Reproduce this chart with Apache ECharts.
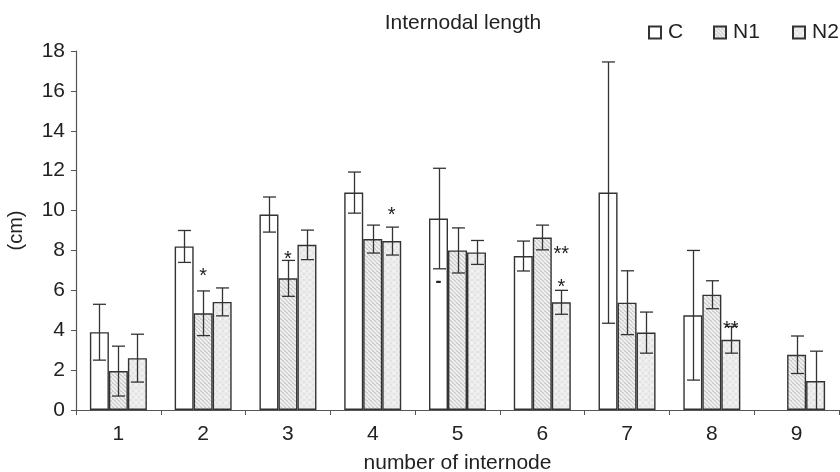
<!DOCTYPE html>
<html>
<head>
<meta charset="utf-8">
<script src="https://cdn.jsdelivr.net/npm/echarts@6/dist/echarts.min.js"></script>
<style>html,body{margin:0;padding:0;background:#fff}#chart{width:840px;height:472px}</style>
</head>
<body>
<div id="chart"></div>
<script>
var categories = ['1', '2', '3', '4', '5', '6', '7', '8', '9'];
var seriesNames = ['C', 'N1', 'N2'];
var valuesC  = [3.9, 8.2, 9.8, 10.9, 9.6, 7.72, 10.9, 4.75, null];
var errC     = [1.4, 0.8, 0.88, 1.03, 2.52, 0.75, 6.55, 3.25, null];
var valuesN1 = [1.95, 4.85, 6.6, 8.57, 8.0, 8.65, 5.38, 5.78, 2.77];
var errN1    = [1.25, 1.12, 0.9, 0.7, 1.13, 0.62, 1.6, 0.7, 0.94];
var valuesN2 = [2.6, 5.42, 8.28, 8.47, 7.9, 5.4, 3.88, 3.52, 1.45];
var errN2    = [1.2, 0.7, 0.74, 0.7, 0.6, 0.6, 1.03, 0.67, 1.5];
var yTicks   = [0, 2, 4, 6, 8, 10, 12, 14, 16, 18];
// significance marks: [category index, series index, value level, text]
var marks = [
  [1, 1, 6.9, '*'],
  [2, 1, 7.77, '*'],
  [3, 2, 9.93, '*'],
  [4, 0, 6.4, '-'],
  [5, 2, 7.98, '**'],
  [5, 2, 6.36, '*'],
  [7, 2, 4.26, '**']
];

var BAR_W = 19;
var FONT = '"Liberation Sans", Arial, sans-serif';

function makeHatch() {
  var c = document.createElement('canvas');
  c.width = 8; c.height = 8;
  var g = c.getContext('2d');
  g.fillStyle = '#c9c9c9';
  g.fillRect(0, 0, 8, 8);
  g.strokeStyle = '#f4f4f4';
  g.lineWidth = 1.6;
  for (var k = -8; k <= 16; k += 4) {
    g.beginPath();
    g.moveTo(k, 0);
    g.lineTo(k + 8, 8);
    g.stroke();
  }
  return c;
}
function makeSpeckle() {
  var c = document.createElement('canvas');
  c.width = 6; c.height = 6;
  var g = c.getContext('2d');
  g.fillStyle = '#ececec';
  g.fillRect(0, 0, 6, 6);
  g.fillStyle = '#e2e2e2';
  g.fillRect(0, 0, 2, 2);
  g.fillRect(3, 3, 2, 2);
  g.fillStyle = '#f4f4f4';
  g.fillRect(3, 0, 2, 2);
  return c;
}
var hatch = {image: makeHatch(), repeat: 'repeat'};
var speckle = {image: makeSpeckle(), repeat: 'repeat'};
var fills = ['#ffffff', hatch, speckle];
var allValues = [valuesC, valuesN1, valuesN2];
var allErr = [errC, errN1, errN2];

var chart = echarts.init(document.getElementById('chart'), null, {renderer: 'canvas'});

var series = [];
seriesNames.forEach(function (name, si) {
  series.push({
    name: name,
    type: 'bar',
    data: allValues[si],
    barWidth: BAR_W,
    barGap: '0%',
    itemStyle: {color: fills[si], borderColor: '#333', borderWidth: 1.4},
    emphasis: {disabled: true},
    silent: true,
    z: 2
  });
});

var errData = [];
seriesNames.forEach(function (name, si) {
  allValues[si].forEach(function (v, i) {
    if (v != null && allErr[si][i] != null) {
      errData.push([i, v - allErr[si][i], v + allErr[si][i], si]);
    }
  });
});

series.push({
  type: 'custom',
  silent: true,
  z: 5,
  data: errData,
  encode: {x: 0, y: [1, 2]},
  renderItem: function (params, api) {
    var off = (api.value(3) - 1) * BAR_W;
    var lo = api.coord([api.value(0), Math.max(0, api.value(1))]);
    var hi = api.coord([api.value(0), api.value(2)]);
    var x = Math.round(lo[0] + off) + 0.5;
    var hw = 6.5;
    var st = {stroke: '#333', lineWidth: 1.3};
    var ch = [
      {type: 'line', shape: {x1: x, y1: lo[1], x2: x, y2: hi[1]}, style: st},
      {type: 'line', shape: {x1: x - hw, y1: hi[1], x2: x + hw, y2: hi[1]}, style: st}
    ];
    if (api.value(1) > 0) {
      ch.push({type: 'line', shape: {x1: x - hw, y1: lo[1], x2: x + hw, y2: lo[1]}, style: st});
    }
    return {type: 'group', children: ch};
  }
});

series.push({
  type: 'custom',
  silent: true,
  z: 6,
  data: marks,
  encode: {x: 0, y: 2},
  renderItem: function (params, api) {
    var off = (api.value(1) - 1) * BAR_W;
    var p = api.coord([api.value(0), api.value(2)]);
    var txt = marks[params.dataIndex][3];
    var isDash = txt === '-';
    return {
      type: 'text',
      x: p[0] + off,
      y: p[1] + (isDash ? 0 : 4),
      style: {
        text: txt,
        fill: '#222',
        font: (isDash ? 'bold 18px ' : '20px ') + FONT,
        align: 'center',
        verticalAlign: 'middle'
      }
    };
  }
});

var legendLefts = [648, 713, 792];
var legends = seriesNames.map(function (name, si) {
  return {
    data: [name],
    left: legendLefts[si],
    top: 22,
    padding: 0,
    icon: 'rect',
    itemWidth: 12,
    itemHeight: 12,
    itemGap: 5,
    selectedMode: false,
    textStyle: {fontFamily: FONT, fontSize: 21, color: '#222', padding: [0, 0, 0, 2]}
  };
});

chart.setOption({
  animation: false,
  backgroundColor: '#fff',
  title: {
    text: 'Internodal length',
    left: 458,
    top: 8,
    textAlign: 'center',
    textStyle: {fontFamily: FONT, fontSize: 21, fontWeight: 'normal', color: '#222'}
  },
  legend: legends,
  grid: {left: 76, right: 1, top: 51, bottom: 62, containLabel: false, outerBoundsMode: 'none'},
  xAxis: {
    type: 'category',
    data: categories,
    name: 'number of internode',
    nameLocation: 'middle',
    nameGap: 43,
    nameTextStyle: {fontFamily: FONT, fontSize: 21, color: '#222'},
    axisLine: {lineStyle: {color: '#555', width: 1.2}},
    axisTick: {show: true, length: 5, inside: false, lineStyle: {color: '#555'}},
    axisLabel: {fontFamily: FONT, fontSize: 21, color: '#222', margin: 14},
    splitLine: {show: false}
  },
  yAxis: {
    type: 'value',
    min: yTicks[0],
    max: yTicks[yTicks.length - 1],
    interval: yTicks[1] - yTicks[0],
    name: '(cm)',
    nameLocation: 'middle',
    nameGap: 50,
    nameTextStyle: {fontFamily: FONT, fontSize: 20, color: '#222'},
    axisLine: {show: true, lineStyle: {color: '#555', width: 1.2}},
    axisTick: {show: true, length: 5, lineStyle: {color: '#555'}},
    axisLabel: {fontFamily: FONT, fontSize: 21, color: '#222', margin: 11},
    splitLine: {show: false}
  },
  series: series
});
</script>
</body>
</html>
